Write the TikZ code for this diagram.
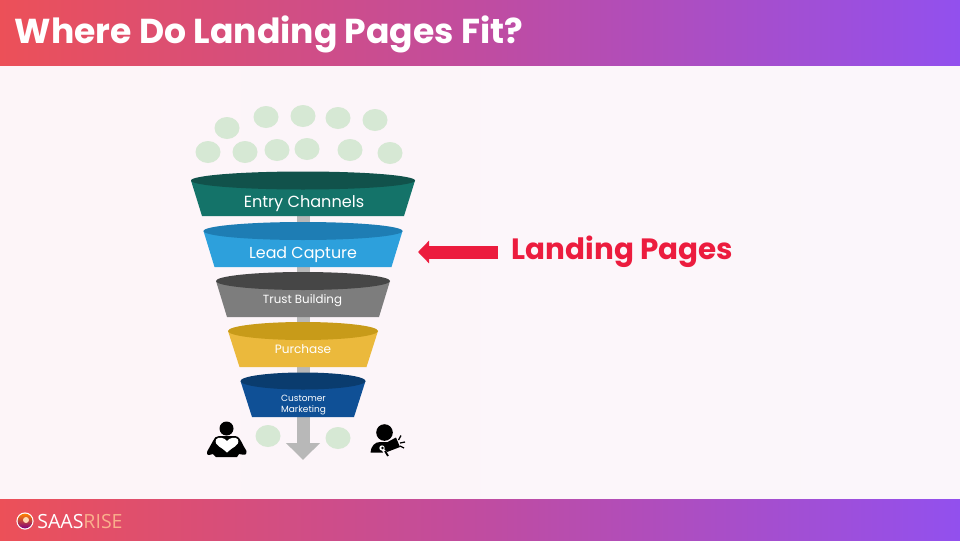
\documentclass[tikz,border=0pt]{standalone}
\usepackage{fontspec}
\setmainfont{Poppins}
\newfontfamily\logofont{Open Sans}
\usetikzlibrary{arrows.meta}
\definecolor{headred}{RGB}{236,80,88}
\definecolor{headmid}{RGB}{192,76,160}
\definecolor{headviolet}{RGB}{146,80,238}
\definecolor{pagepink}{RGB}{253,245,248}
\definecolor{pagebg}{RGB}{251,246,251}
\definecolor{dotgreen}{RGB}{214,232,212}
\definecolor{pagered}{RGB}{236,28,62}
\definecolor{stemgray}{RGB}{184,184,184}
\definecolor{risepeach}{RGB}{250,175,140}
\definecolor{tealbody}{RGB}{20,115,105}
\definecolor{teallid}{RGB}{17,82,75}
\definecolor{bluebody}{RGB}{45,160,220}
\definecolor{bluelid}{RGB}{30,125,180}
\definecolor{graybody}{RGB}{125,125,125}
\definecolor{graylid}{RGB}{70,70,70}
\definecolor{yellowbody}{RGB}{235,185,60}
\definecolor{yellowlid}{RGB}{200,155,25}
\definecolor{navybody}{RGB}{15,80,150}
\definecolor{navylid}{RGB}{10,60,110}
\newcommand{\funneltier}[7]{% y top, y bottom, half widths top/bottom, ry, body, lid
\fill[#6] (303-#3,#1) -- (303-#4,#2) -- (303+#4,#2) -- (303+#3,#1) -- cycle;
\fill[#7] (303,#1) ellipse [x radius=#3, y radius=#5];
}
\begin{document}
\begin{tikzpicture}[x=0.025cm,y=-0.025cm,
main node/.style={text=white,align=center,inner sep=0pt},
bar/.style={left color=headred,right color=headviolet,middle color=headmid}]
\useasboundingbox (0,0) rectangle (960,540);
\shade[left color=pagepink,right color=pagebg] (0,0) rectangle (960,540);
\shade[bar] (0,0) rectangle (960,65.5);
\shade[bar] (0,499) rectangle (960,540);
\node[anchor=base west,inner sep=0pt,text=white,font=\fontsize{24.6}{25}\selectfont\bfseries] (title) at (14.5,43) {Where Do Landing Pages Fit?};
%dots
\foreach \cx/\cy in {227/128,266/117,303/116,338/118,375/120,208/152,245/152,277/150,307/149,350/150,390/153,268/436,338/438}
  \fill[dotgreen] (\cx,\cy) ellipse [x radius=12.5, y radius=11];
%stem
\coordinate (stemtop) at (303,205);
\coordinate (stemend) at (303,460);
\draw[stemgray,line width=13*0.025cm,-{Triangle[length=17*0.025cm,width=33*0.025cm]}] (stemtop) -- (stemend);
%tiers
\funneltier{180.5}{216}{112}{101}{9}{tealbody}{teallid}
\funneltier{231}{267}{99.5}{88.5}{9}{bluebody}{bluelid}
\funneltier{281}{317}{87}{76}{9}{graybody}{graylid}
\funneltier{331}{367}{75}{63.5}{9}{yellowbody}{yellowlid}
\funneltier{381}{417}{62.5}{51}{8.5}{navybody}{navylid}
\node[main node,font=\fontsize{11.45}{12}\selectfont] (v1) at (304,204) {Entry Channels};
\node[main node,font=\fontsize{11.3}{12}\selectfont] (v2) at (303,254.5) {Lead Capture};
\node[main node,font=\fontsize{8.4}{9}\selectfont] (v3) at (302.5,300.5) {Trust Building};
\node[main node,font=\fontsize{8.6}{9}\selectfont] (v4) at (303,349.5) {Purchase};
\node[main node,font=\fontsize{6.4}{8}\selectfont] (v5) at (303.5,405) {Customer\\Marketing};
%landing pages
\node[anchor=base west,inner sep=0pt,text=pagered,font=\fontsize{20.9}{21}\selectfont\bfseries] (landing) at (511.5,259) {Landing Pages};
\coordinate (arrowstart) at (498,252);
\coordinate (arrowtip) at (418,252);
\draw[pagered,line width=13*0.025cm,-{Triangle[length=11*0.025cm,width=22*0.025cm]}] (arrowstart) -- (arrowtip);
%reader
\fill[black] (226.5,428.5) circle [radius=7];
\fill[black] (219,436) -- (235,436) .. controls (239,436) and (241,441) .. (243,445) -- (246.5,451) .. controls (247,455) and (244,455.5) .. (242,454.5) -- (239,454) -- (237,457) -- (216,457) -- (213,454) -- (209,455) .. controls (206,455.5) and (207,451) .. (208,450) -- (213,441) .. controls (214,438) and (216,436) .. (219,436) -- cycle;
\fill[white] (227,452.5) .. controls (222,447) and (214,446) .. (216,439.5) .. controls (218,436.5) and (224.5,437.5) .. (227,441) .. controls (229.5,437.5) and (236,436.5) .. (238,439.5) .. controls (240,446) and (232,447) .. (227,452.5) -- cycle;
%speaker
\fill[black] (384.5,432.5) circle [radius=8.3];
\fill[black] (370.5,452.5) .. controls (371,446) and (375,442) .. (380,442) -- (393,442) -- (381,449) -- (383,452.5) -- cycle;
\fill[black] (381,445.5) -- (396,437.5) -- (400,447) -- (387,452) -- cycle;
\fill[white] (382,448) circle [radius=2.7];
\fill[black] (382.5,448) circle [radius=1.3];
\draw[black,line width=1.8*0.025cm] (385,451) -- (388,456);
\draw[black,line width=0.9pt] (398.5,440) -- (401,435.5) (400,443) -- (405,442) (400,446) -- (404,448);
%logo
\fill[white] (25,521) circle [radius=8.6];
\shade[top color=orange,bottom color=violet] (25,521) circle [radius=7.4];
\fill[white!70!orange] (26,520) circle [radius=3];
\node[anchor=base west,inner sep=0pt,font=\fontsize{13.9}{14}\selectfont\logofont] (logo) at (37,528) {\textcolor{white}{SAAS}\textcolor{risepeach}{RISE}};
\end{tikzpicture}
\end{document}
